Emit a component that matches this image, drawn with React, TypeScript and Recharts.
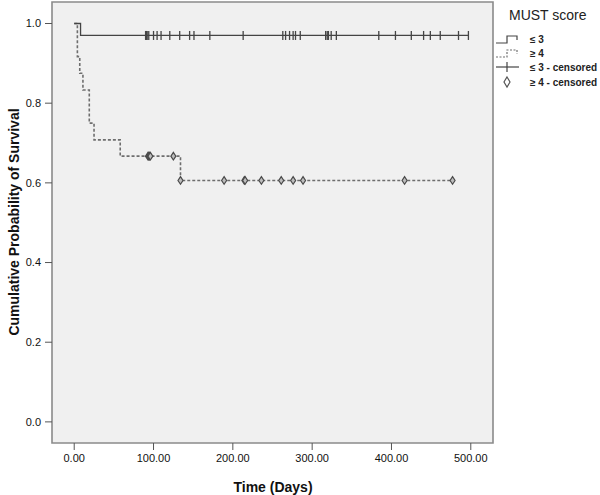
import React from 'react';
import { ComposedChart, Line, Scatter, XAxis, YAxis, CartesianGrid, ReferenceArea } from 'recharts';

// MUST score <= 3 : event times and survival
const lowTimes = [0, 8, 497];
const lowSurv = [1.0, 0.97, 0.97];
// MUST score >= 4
const highTimes = [0, 4, 7, 11, 19, 25, 58, 134, 477];
const highSurv = [1.0, 0.917, 0.875, 0.833, 0.75, 0.708, 0.667, 0.606, 0.606];

// censored observations (days)
const lowCensored = [
  90, 91, 92, 94, 100, 104.5, 109.5, 120.5, 133, 145.5, 151, 171, 213, 263, 266.5, 271.5, 276, 279,
  285, 317, 319, 320.5, 324, 330.5, 384, 405, 425, 440.5, 449, 461.5, 484.5, 497,
];
const highCensored = [93, 94, 95, 96, 125, 134, 189, 214.5, 215.5, 236, 261, 276, 288.5, 416.5, 477];

const xTicks = [0, 100, 200, 300, 400, 500];
const yTicks = [0, 0.2, 0.4, 0.6, 0.8, 1.0];

const survAt = (times: number[], surv: number[], t: number) => {
  let s = surv[0];
  for (let i = 0; i < times.length; i++) if (times[i] <= t) s = surv[i];
  return s;
};

const lowData = lowTimes.map((t, i) => ({ t, s: lowSurv[i] }));
const highData = highTimes.map((t, i) => ({ t, s: highSurv[i] }));
const lowCens = lowCensored.map((t) => ({ t, s: survAt(lowTimes, lowSurv, t) }));
const highCens = highCensored.map((t) => ({ t, s: survAt(highTimes, highSurv, t) }));

const FONT = 'Liberation Sans, Arial, sans-serif';

const PlusMark = (p: any) => (
  <line x1={p.cx} x2={p.cx} y1={p.cy - 4.5} y2={p.cy + 4.5} stroke="#444" strokeWidth={1.3} />
);

const DiamondMark = (p: any) => (
  <path
    d={`M${p.cx},${p.cy - 3.8} L${p.cx + 2.5},${p.cy} L${p.cx},${p.cy + 3.8} L${p.cx - 2.5},${p.cy} Z`}
    fill="#bdbdbd"
    stroke="#4a4a4a"
    strokeWidth={1.2}
  />
);

const App: React.FC = () => {
  const tickStyle = { fontSize: 11, fill: '#111', fontFamily: FONT };
  return (
    <div style={{ position: 'absolute', left: 0, top: 0, width: 600, height: 495, background: '#fff' }}>
      <ComposedChart width={600} height={495} margin={{ top: 2, right: 107, bottom: 0, left: 0 }}>
        <CartesianGrid horizontal={false} vertical={false} fill="#f0f0f0" fillOpacity={1} />
        <XAxis
          dataKey="t"
          type="number"
          domain={[-28, 528]}
          ticks={xTicks}
          tickFormatter={(v: number) => v.toFixed(2)}
          height={52}
          tick={tickStyle}
          tickSize={7}
          tickMargin={4}
          stroke="#555"
          axisLine={false}
        />
        <YAxis
          dataKey="s"
          type="number"
          domain={[-0.053, 1.054]}
          ticks={yTicks}
          tickFormatter={(v: number) => v.toFixed(1)}
          width={52}
          tick={tickStyle}
          tickSize={7}
          tickMargin={4}
          stroke="#555"
          axisLine={false}
        />
        <Line data={highData} dataKey="s" type="stepAfter" stroke="#6e6e6e" strokeWidth={1.6}
          strokeDasharray="3 2" dot={false} isAnimationActive={false} />
        <Line data={lowData} dataKey="s" type="stepAfter" stroke="#444" strokeWidth={1.3}
          dot={false} isAnimationActive={false} />
        <Scatter data={lowCens} dataKey="s" shape={PlusMark} isAnimationActive={false} />
        <Scatter data={highCens} dataKey="s" shape={DiamondMark} isAnimationActive={false} />
        <ReferenceArea x1={-28} x2={528} y1={-0.053} y2={1.054} fill="none" stroke="#8a8a8a" strokeWidth={1.6} />
      </ComposedChart>
      <svg width={600} height={495} style={{ position: 'absolute', left: 0, top: 0, pointerEvents: 'none' }}>
        <text x={14} y={222} transform="rotate(-90 14 222)" textAnchor="middle" dominantBaseline="central"
          fontFamily={FONT} fontWeight="bold" fontSize={14} fill="#111">
          Cumulative Probability of Survival
        </text>
        <text x={273} y={492} textAnchor="middle" fontFamily={FONT} fontWeight="bold" fontSize={14} fill="#111">
          Time (Days)
        </text>
        <text x={509} y={20} fontFamily={FONT} fontSize={14} fill="#222">MUST score</text>
        <path d="M496,43 H507 V36 H517 V40" fill="none" stroke="#444" strokeWidth={1.2} />
        <text x={530} y={43} fontFamily={FONT} fontWeight="bold" fontSize={10} fill="#222">≤ 3</text>
        <path d="M496,57 H507 V50 H517 V54" fill="none" stroke="#6e6e6e" strokeWidth={1.2} strokeDasharray="2 1.5" />
        <text x={530} y={57} fontFamily={FONT} fontWeight="bold" fontSize={10} fill="#222">≥ 4</text>
        <line x1={496} x2={519} y1={67} y2={67} stroke="#444" strokeWidth={1.2} />
        <line x1={507} x2={507} y1={62} y2={72} stroke="#444" strokeWidth={1.2} />
        <text x={530} y={71} fontFamily={FONT} fontWeight="bold" fontSize={10} fill="#222">≤ 3 - censored</text>
        <path d="M507,77 L510,82 L507,87 L504,82 Z" fill="#fff" stroke="#555" strokeWidth={1.2} />
        <text x={530} y={86} fontFamily={FONT} fontWeight="bold" fontSize={10} fill="#222">≥ 4 - censored</text>
      </svg>
    </div>
  );
};

export default App;
